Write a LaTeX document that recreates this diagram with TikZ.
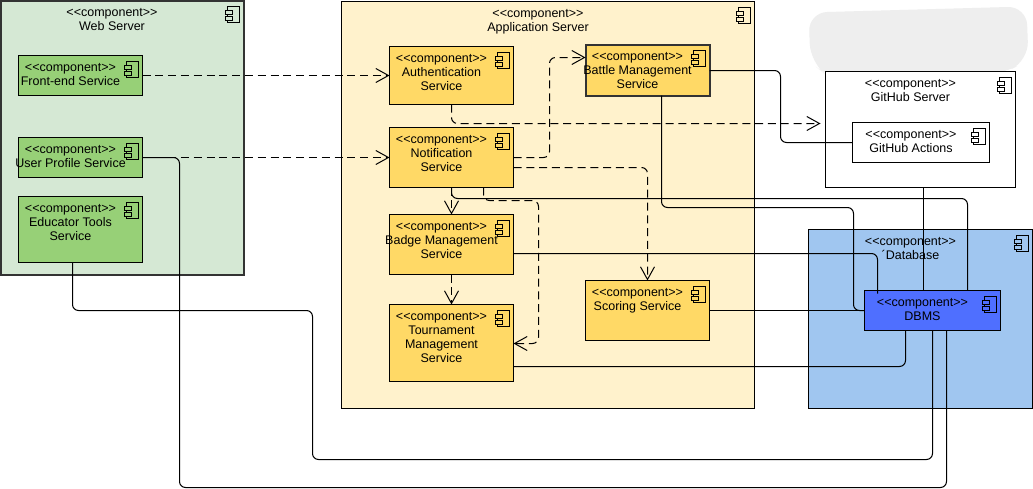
\documentclass[tikz,border=0pt]{standalone}
\usepackage{fontspec}
\setmainfont{Liberation Sans}
\usetikzlibrary{arrows.meta,calc}
\definecolor{webgreen}{HTML}{D5E8D4}
\definecolor{compgreen}{HTML}{97D077}
\definecolor{appyellow}{HTML}{FFF2CC}
\definecolor{comporange}{HTML}{FFD966}
\definecolor{dbblue}{HTML}{A0C6F0}
\definecolor{dbmsblue}{HTML}{4F6FFF}
\definecolor{smudge}{HTML}{EEEEEE}
\tikzset{
  x=0.75pt,y=-0.75pt,
  compbox/.style={draw=black,line width=0.75pt,inner sep=0pt,outer sep=0pt,anchor=north west},
  heavy/.style={line width=1.5pt,draw=black!80},
  complabel/.style={inner sep=0pt,outer sep=0pt,anchor=north,align=center,text=black,
    font=\fontsize{9.375}{10.5}\selectfont},
  link/.style={line width=0.75pt,rounded corners=4.5pt,draw=black},
  dep/.style={link,dash pattern=on 6pt off 3.6pt,-{Straight Barb[length=9.5pt,width=10.5pt,line width=0.75pt]}},
}
% name, x1, y1, x2, y2, fill, text, extra style
\newcommand{\compnode}[8]{%
  \node[compbox,fill=#6,minimum width=(#4-#2)*0.75pt,minimum height=(#5-#3)*0.75pt,#8] (#1) at (#2,#3) {};
  \node[complabel] (#1-text) at ($(#1.north)+(-10,8)$) {<{}<component>{}>\\#7};
  \draw[line width=0.75pt,fill=#6] ($(#1.north east)+(-16,6)$) rectangle ($(#1.north east)+(-4,22)$);
  \draw[line width=0.75pt,fill=#6] ($(#1.north east)+(-18,10)$) rectangle ($(#1.north east)+(-11,14)$);
  \draw[line width=0.75pt,fill=#6] ($(#1.north east)+(-18,16)$) rectangle ($(#1.north east)+(-11,20)$);
}
\begin{document}
\begin{tikzpicture}
\useasboundingbox (-0.5,-0.5) rectangle (1032.5,488.5);
\fill[white] (-0.5,-0.5) rectangle (1032.5,488.5);
% containers
\compnode{web}{0}{0}{243}{274}{webgreen}{Web Server}{heavy}
\compnode{app}{341}{1}{754}{408}{appyellow}{Application Server}{}
\fill[smudge,rounded corners=14pt] (808,12) -- (1026,6) -- (1028,60) -- (1000,74) -- (830,78) -- (810,62) -- cycle;
\compnode{gh}{825}{71}{1015}{187}{white}{GitHub Server}{}
\compnode{db}{808}{229}{1032}{408}{dbblue}{´Database}{}
% web components
\compnode{front}{18}{55}{142}{95}{compgreen}{Front-end Service}{}
\compnode{user}{18}{137}{142}{177}{compgreen}{User Profile Service}{}
\compnode{edu}{18}{196}{142}{262}{compgreen}{Educator Tools\\Service}{}
% application components
\compnode{auth}{389}{46}{513}{104}{comporange}{Authentication\\Service}{}
\compnode{notif}{389}{127}{513}{187}{comporange}{Notification\\Service}{}
\compnode{badge}{389}{214}{513}{274}{comporange}{Badge Management\\Service}{}
\compnode{tour}{389}{304}{513}{381}{comporange}{Tournament\\Management\\Service}{}
\compnode{battle}{585}{44}{709}{95}{comporange}{Battle Management\\Service}{heavy}
\compnode{score}{585}{280}{709}{340}{comporange}{Scoring Service}{}
% others
\compnode{actions}{852}{122}{989}{162}{white}{GitHub Actions}{}
\compnode{dbms}{864}{290}{1000}{330}{dbmsblue}{DBMS}{}
\coordinate (ghin) at (820,123);
% dashed dependencies
\draw[dep] (front.east) -- (auth.west);
\draw[dep] (user.east) -- (notif.west);
\draw[dep] (auth.south) -- (451,123) -- (ghin);
\draw[dep] (notif.east) -- (549,157) -- (549,57) -- ($(battle.west)+(0,-12.5)$);
\draw[dep] ($(notif.east)+(0,10)$) -- (647,167) -- (score.north);
\draw[dep] (notif.south) -- (badge.north);
\draw[dep] ($(notif.south)+(32,0)$) -- (483,200) -- (538,200) -- (538,343) -- ($(tour.east)+(0,0.5)$);
\draw[dep] (badge.south) -- (tour.north);
% solid connectors
\draw[link] ($(battle.east)+(0,0.5)$) -- (780,70) -- (780,142) -- (actions.west);
\draw[link] ($(battle.south)+(14,0)$) -- (661,207) -- (853,207) -- (853,310) -- (dbms.west);
\draw[link] (score.east) -- (dbms.west);
\draw[link] ($(badge.east)+(0,9)$) -- (877,253) -- ($(dbms.north)+(-55,3)$);
\draw[link] ($(tour.east)+(0,23.5)$) -- (905,366) -- ($(dbms.south)+(-27,0)$);
\draw[link] ($(gh.south)+(2.5,0)$) -- ($(dbms.north)+(-9.5,0)$);
\draw[link] (notif.south) -- (451,198) -- (967,198) -- ($(dbms.north)+(35,0)$);
\draw[link] ($(edu.south)+(-8,0)$) -- (72,310) -- (312,310) -- (312,459) -- (932,459) -- (dbms.south);
\draw[link] (user.east) -- (179,157) -- (179,487) -- (946,487) -- ($(dbms.south)+(14,0)$);
\end{tikzpicture}
\end{document}
